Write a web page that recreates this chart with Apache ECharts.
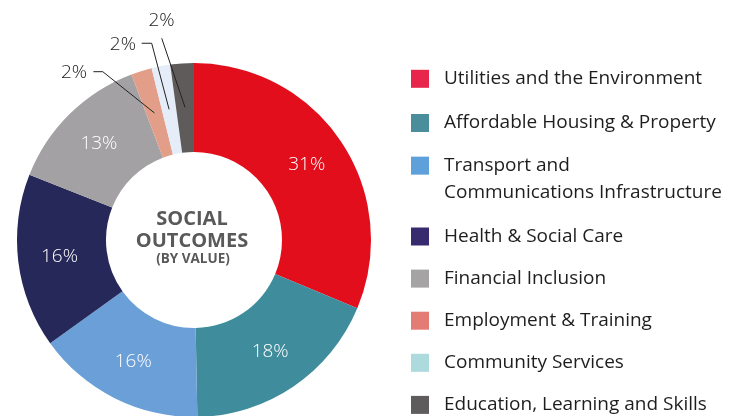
<!DOCTYPE html>
<html>
<head>
<meta charset="utf-8">
<script src="https://cdn.jsdelivr.net/npm/echarts@6/dist/echarts.min.js"></script>
<style>
  html, body { margin: 0; padding: 0; background: #fff; }
  #main { width: 735px; height: 416px; }
</style>
</head>
<body>
<div id="main"></div>
<script>
var categories = [
  'Utilities and the Environment',
  'Affordable Housing & Property',
  'Transport and Communications Infrastructure',
  'Health & Social Care',
  'Financial Inclusion',
  'Employment & Training',
  'Community Services',
  'Education, Learning and Skills'
];
var shares = [31.3, 18.4, 15.4, 15.9, 13.25, 1.9, 1.7, 2.15];
var shareLabels = ['31%', '18%', '16%', '16%', '13%', '2%', '2%', '2%'];

var sliceColors = ['#e20e1c', '#3f8d9c', '#6a9fd8', '#252858', '#a3a1a3', '#e29e89', '#e4edf8', '#5f5b5b'];
var legendColors = ['#e8254a', '#4b8e9b', '#5ea0da', '#382a6e', '#a6a3a4', '#e47c76', '#addadc', '#5f5c5d'];

var FONT = "'Open Sans', sans-serif";
var smallIdx = [5, 6, 7];   // slices that get a callout instead of an inside label

// callout shapes, relative to where the leader line leaves the slice
var callouts = {
  5: { pts: [[-51.7, -41.3], [-61.1, -41.3]], text: [-67.4, -40], align: 'right' },
  6: { pts: [[-17.4, -66.1], [-27.4, -66.1]], text: [-33.1, -64.4], align: 'right' },
  7: { pts: [[-23.3, -69], [-23.3, -69]], text: [-23.5, -86.3], align: 'center' }
};

var ringData = [];
var calloutData = [];
for (var i = 0; i < categories.length; i++) {
  var small = smallIdx.indexOf(i) >= 0;
  ringData.push({
    name: categories[i],
    value: shares[i],
    itemStyle: { color: sliceColors[i] },
    label: { show: !small, formatter: shareLabels[i] }
  });
  calloutData.push({
    name: categories[i],
    value: shares[i],
    label: { show: small, formatter: shareLabels[i] },
    labelLine: { show: small }
  });
}

function legendItems(from, to) {
  var arr = [];
  for (var i = from; i < to; i++) {
    arr.push({ name: categories[i], itemStyle: { color: legendColors[i] } });
  }
  return arr;
}

function legendCfg(extra, lineHeight) {
  return Object.assign({
    orient: 'vertical',
    left: 411,
    padding: 0,
    icon: 'rect',
    itemWidth: 18,
    itemHeight: 18,
    selectedMode: false,
    textStyle: { fontFamily: FONT, fontSize: 19, color: '#1e1e1e', lineHeight: lineHeight, padding: [0, 0, 0, 10] }
  }, extra);
}

// used to drive the callout labels of the second series
function placeCallout(params) {
  var c = callouts[params.dataIndex];
  if (!c || !params.labelLinePoints) return;
  var p0 = params.labelLinePoints[0];
  return {
    x: p0[0] + c.text[0],
    y: p0[1] + c.text[1],
    align: c.align,
    verticalAlign: 'middle',
    labelLinePoints: [
      [p0[0], p0[1]],
      [p0[0] + c.pts[0][0], p0[1] + c.pts[0][1]],
      [p0[0] + c.pts[1][0], p0[1] + c.pts[1][1]]
    ]
  };
}

var chart = echarts.init(document.getElementById('main'));
var option = {
  animation: false,
  legend: [
    legendCfg({ top: 68.8, itemGap: 24.2, data: legendItems(0, 2) }, 20),
    legendCfg({
      top: 124.7, data: legendItems(2, 3),
      formatter: function () { return '\nTransport and\nCommunications Infrastructure'; }
    }, 27.3),
    legendCfg({ top: 226.5, itemGap: 22.1, data: legendItems(3, 8) }, 20)
  ],
  graphic: [
    { type: 'text', x: 192, y: 219, style: { text: 'SOCIAL', fill: '#595959', font: 'bold 20px ' + FONT, textAlign: 'center', textVerticalAlign: 'middle' } },
    { type: 'text', x: 192, y: 241, style: { text: 'OUTCOMES', fill: '#595959', font: 'bold 20px ' + FONT, textAlign: 'center', textVerticalAlign: 'middle' } },
    { type: 'text', x: 193, y: 259, style: { text: '(BY VALUE)', fill: '#595959', font: 'bold 13.5px ' + FONT, textAlign: 'center', textVerticalAlign: 'middle' } }
  ],
  series: [
    {
      type: 'pie',
      center: [194, 240],
      radius: [88, 177],
      startAngle: 90,
      clockwise: true,
      silent: true,
      label: { position: 'inside', color: '#fff', fontFamily: FONT, fontSize: 19, fontWeight: 300 },
      labelLine: { show: false },
      data: ringData
    },
    {
      // invisible copy whose outer edge runs through the middle of the ring,
      // so the callout lines start inside the slices
      type: 'pie',
      z: 5,
      center: [194, 240],
      radius: [0, 133],
      startAngle: 90,
      clockwise: true,
      silent: true,
      avoidLabelOverlap: false,
      itemStyle: { color: 'rgba(0,0,0,0)' },
      label: { position: 'outside', color: '#222', fontFamily: FONT, fontSize: 19, fontWeight: 300 },
      labelLine: { show: true, length: 10, length2: 10, lineStyle: { color: '#222', width: 1 } },
      labelLayout: placeCallout,
      data: calloutData
    }
  ]
};
chart.setOption(option);
</script>
</body>
</html>
